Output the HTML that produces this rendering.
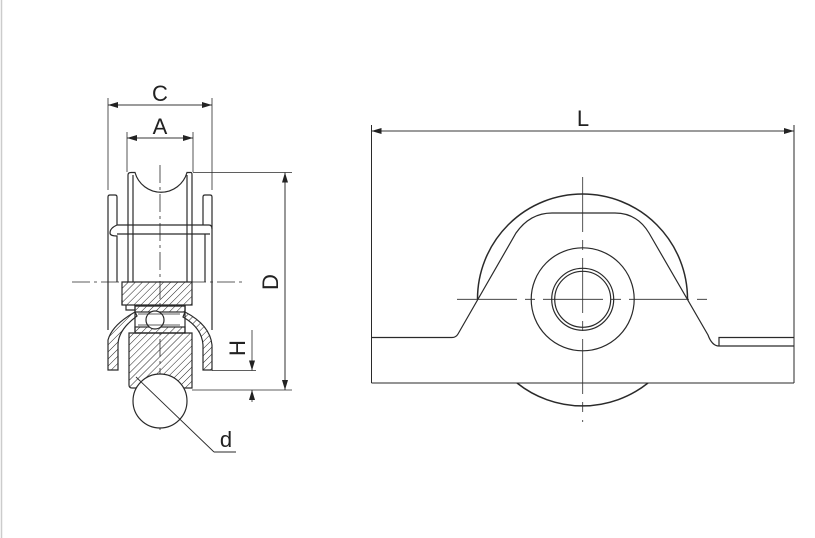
<!DOCTYPE html>
<html><head><meta charset="utf-8"><style>
html,body{margin:0;padding:0;background:#fff;}
svg{display:block;}
text{font-family:"Liberation Sans",sans-serif;fill:#222;}
</style></head><body>
<svg width="815" height="538" viewBox="0 0 815 538" xmlns="http://www.w3.org/2000/svg">
<defs>
<pattern id="h" width="5" height="5" patternUnits="userSpaceOnUse" patternTransform="rotate(45)">
<line x1="0" y1="0" x2="0" y2="5" stroke="#222" stroke-width="1"/></pattern>
<marker id="ar" markerWidth="10" markerHeight="6" refX="10" refY="3" orient="auto" markerUnits="userSpaceOnUse">
<path d="M0,0 L10,3 L0,6 z" fill="#222"/></marker>
</defs>
<line x1="1.5" y1="0" x2="1.5" y2="538" stroke="#ccc" stroke-width="1.5"/>
<g stroke="#2a2a2a" stroke-width="1.2" fill="none">
<line x1="108" y1="98" x2="108" y2="190" stroke-width="0.8"/>
<line x1="212" y1="98" x2="212" y2="190" stroke-width="0.8"/>
<line x1="108" y1="105" x2="212" y2="105" stroke-width="0.8" marker-end="url(#ar)"/>
<line x1="212" y1="105" x2="108" y2="105" stroke-width="0.8" marker-end="url(#ar)"/>
<line x1="127" y1="132" x2="127" y2="172" stroke-width="0.8"/>
<line x1="193" y1="132" x2="193" y2="172" stroke-width="0.8"/>
<line x1="127" y1="138" x2="193" y2="138" stroke-width="0.8" marker-end="url(#ar)"/>
<line x1="193" y1="138" x2="127" y2="138" stroke-width="0.8" marker-end="url(#ar)"/>
<path d="M128,282 V175 Q128,172.5 131,172.5 H135 A27,27 0 0 0 187,172.5 H191 Q192,172.5 192,175 V282"/>
<line x1="133" y1="175" x2="133" y2="282"/>
<line x1="187" y1="175" x2="187" y2="282"/>
<path d="M108,330 V197 Q108,195 110,195 H115 Q117,195 117,197 V225"/>
<path d="M212,330 V197 Q212,195 210,195 H205 Q203,195 203,197 V225"/>
<path d="M117,225 H209 Q212,225 212,229 M117,234 H210 M117,225 Q110,228 110,233 M110,233 Q110,236 117,236 V282 M205,234 V282"/>
<line x1="72" y1="282" x2="245" y2="282" stroke-width="0.8" stroke-dasharray="18,4,3,4"/>
<line x1="160" y1="165" x2="160" y2="430" stroke-width="0.8" stroke-dasharray="18,4,3,4"/>
<path d="M122,282 H192 V305 H122 Z" fill="url(#h)"/>
<path d="M122,305 V300 M126,305 V310 H185 V305" />
<rect x="135" y="306" width="50" height="27" fill="#fff"/>
<rect x="135" y="306" width="50" height="6" fill="url(#h)"/>
<rect x="135" y="327" width="50" height="6" fill="url(#h)"/>
<circle cx="155" cy="320" r="9" fill="#fff"/>
<line x1="138" y1="314" x2="180" y2="314" stroke-width="0.7"/>
<line x1="138" y1="325" x2="180" y2="325" stroke-width="0.7"/>
<path d="M108,370 V340 Q112,325 135,312 L137,316 Q118,330 118,345 V370 Z" fill="url(#h)"/>
<path d="M212,370 V345 Q210,325 185,312 L183,317 Q202,328 203,345 V370 Z" fill="url(#h)"/>
<path d="M129,333 H192 V388 H132 Q129,388 129,385 Z" fill="url(#h)"/>
<circle cx="160" cy="401" r="27" fill="#fff"/>
<line x1="136" y1="377" x2="214" y2="452" stroke-width="0.9"/>
<line x1="214" y1="452" x2="236" y2="452" stroke-width="0.9"/>
<line x1="193" y1="172.5" x2="292" y2="172.5" stroke-width="0.8"/>
<line x1="192" y1="390" x2="292" y2="390" stroke-width="0.8"/>
<line x1="285" y1="172.5" x2="285" y2="390" stroke-width="0.8" marker-end="url(#ar)"/>
<line x1="285" y1="390" x2="285" y2="172.5" stroke-width="0.8" marker-end="url(#ar)"/>
<line x1="212" y1="370.5" x2="256" y2="370.5" stroke-width="0.8"/>
<line x1="252" y1="330" x2="252" y2="370.5" stroke-width="0.8" marker-end="url(#ar)"/>
<line x1="252" y1="402" x2="252" y2="390" stroke-width="0.8" marker-end="url(#ar)"/>

<line x1="371.5" y1="125" x2="371.5" y2="383" stroke-width="1"/>
<line x1="794" y1="125" x2="794" y2="383" stroke-width="1"/>
<line x1="371.5" y1="131" x2="794" y2="131" stroke-width="0.8" marker-end="url(#ar)"/>
<line x1="794" y1="131" x2="371.5" y2="131" stroke-width="0.8" marker-end="url(#ar)"/>
<line x1="371.5" y1="383" x2="794" y2="383" stroke-width="1"/>
<path d="M477.5,299 A105,105 0 0 1 687.5,299" stroke-width="1.5"/>
<path d="M517,383 A105,105 0 0 0 648,383" stroke-width="1.5"/>
<path d="M371.5,337.5 H452 Q456,337.5 458,334 L516,233 Q530,213 552,213 H615 Q637,213 649,233 L708,335 Q712,346 719,346 H794"/>
<path d="M719,346 V337.5 H794"/>
<circle cx="582.7" cy="299.3" r="51.5"/>
<circle cx="582.7" cy="299.3" r="31"/>
<circle cx="582.7" cy="299.3" r="28"/>
<line x1="457" y1="299.3" x2="708" y2="299.3" stroke-width="0.8" stroke-dasharray="60,8,10,8"/>
<line x1="582.7" y1="177" x2="582.7" y2="422" stroke-width="0.8" stroke-dasharray="55,8,10,8"/>
</g>
<text x="160" y="101" font-size="22" text-anchor="middle">C</text>
<text x="160" y="134" font-size="22" text-anchor="middle">A</text>
<text x="226" y="447" font-size="22" text-anchor="middle">d</text>
<text x="583" y="126" font-size="22" text-anchor="middle">L</text>
<text transform="translate(278,282) rotate(-90)" font-size="22" text-anchor="middle">D</text>
<text transform="translate(245,348) rotate(-90)" font-size="22" text-anchor="middle">H</text>
</svg>
</body></html>
